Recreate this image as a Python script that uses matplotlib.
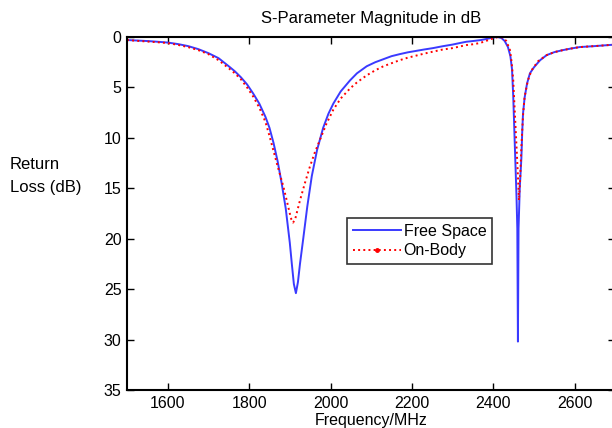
import matplotlib.pyplot as plt
from matplotlib.lines import Line2D

plt.rcParams['font.family'] = ['Liberation Sans', 'DejaVu Sans']

# frequency (MHz) and return loss (dB)
free_f = [1500, 1525, 1550, 1575, 1600, 1625, 1650, 1675, 1700, 1725, 1750,
          1765, 1780, 1795, 1810, 1825, 1840, 1850, 1860, 1870, 1880, 1890,
          1900, 1905, 1910, 1915, 1920, 1925, 1933, 1943, 1954, 1967, 1982,
          1995, 2007, 2025, 2048, 2065, 2089, 2110, 2130, 2150, 2170, 2190,
          2210, 2230, 2252, 2275, 2300, 2320, 2334, 2350, 2370, 2385, 2400,
          2410, 2420, 2428, 2436, 2442, 2446, 2449, 2453, 2457, 2459, 2460.5,
          2462, 2465, 2469, 2471, 2473, 2477, 2483, 2490, 2500, 2515, 2531,
          2550, 2571, 2590, 2612, 2650, 2700]
free_rl = [0.3, 0.35, 0.4, 0.47, 0.55, 0.7, 0.9, 1.2, 1.6, 2.1, 2.9,
           3.4, 4.0, 4.7, 5.6, 6.6, 7.9, 9.0, 10.5, 12.3, 14.5, 17.0,
           20.4, 22.5, 24.5, 25.4, 24.3, 22.5, 20.0, 16.8, 13.8, 11.2, 9.0,
           7.6, 6.6, 5.4, 4.3, 3.6, 2.9, 2.5, 2.2, 1.9, 1.7, 1.52,
           1.38, 1.24, 1.1, 0.92, 0.75, 0.58, 0.47, 0.4, 0.3, 0.18, 0.05,
           0.0, 0.1, 0.4, 1.0, 1.9, 3.2, 5.9, 10.9, 15.8, 19.0, 30.2,
           19.0, 15.0, 12.0, 9.5, 7.6, 6.0, 4.6, 3.6, 3.0, 2.3, 1.8,
           1.5, 1.3, 1.15, 1.0, 0.9, 0.75]

body_f = [1500, 1525, 1550, 1575, 1600, 1625, 1650, 1675, 1700, 1725, 1750,
          1765, 1780, 1795, 1810, 1825, 1840, 1850, 1860, 1870, 1884, 1893,
          1900, 1904, 1908, 1913, 1918, 1925, 1937, 1949, 1961, 1974, 1990,
          2007, 2025, 2048, 2065, 2089, 2110, 2130, 2150, 2170, 2190, 2210,
          2230, 2252, 2275, 2300, 2320, 2334, 2350, 2367, 2385, 2400, 2410,
          2418, 2425, 2432, 2441, 2445, 2449, 2455, 2459, 2461, 2463, 2466,
          2469, 2473, 2477, 2485, 2494, 2510, 2531, 2550, 2571, 2590, 2612,
          2650, 2700]
body_rl = [0.3, 0.38, 0.45, 0.52, 0.6, 0.78, 1.0, 1.3, 1.7, 2.3, 3.1,
           3.6, 4.2, 5.0, 5.9, 7.0, 8.4, 9.8, 11.3, 12.8, 14.8, 16.3,
           17.5, 18.1, 18.4, 18.1, 17.3, 16.2, 14.5, 12.9, 11.5, 10.2, 8.6,
           7.2, 6.1, 5.1, 4.5, 3.8, 3.3, 2.9, 2.6, 2.3, 2.05, 1.85,
           1.65, 1.45, 1.25, 1.1, 0.92, 0.8, 0.72, 0.6, 0.35, 0.13, 0.02,
           0.0, 0.1, 0.4, 1.3, 2.5, 4.3, 9.2, 12.5, 14.2, 16.2, 14.0,
           10.9, 7.8, 5.9, 4.3, 3.3, 2.4, 1.8, 1.5, 1.3, 1.15, 1.0,
           0.9, 0.75]

xticks = [1600, 1800, 2000, 2200, 2400, 2600]
yticks = [0, 5, 10, 15, 20, 25, 30, 35]

fig = plt.figure(figsize=(6.12, 4.28), dpi=100)
ax = fig.add_axes([127 / 612, 38 / 428, 488.4 / 612, 353 / 428])

ax.plot(free_f, free_rl, color='#3a3aff', lw=1.4)
ax.plot(body_f, body_rl, color='red', lw=1.4, ls=':')

ax.set_xlim(1500, 2700)
ax.set_ylim(35, 0)
ax.set_xticks(xticks)
ax.set_yticks(yticks)
ax.tick_params(direction='in', length=5, width=1, top=True, right=True,
               labelsize=11.5, pad=4)
for s in ax.spines.values():
    s.set_linewidth(1.5)

ax.set_title('S-Parameter Magnitude in dB', fontsize=12, pad=10)
ax.set_xlabel('Frequency/MHz', fontsize=11.5, labelpad=2)
fig.text(10 / 612, 1 - 176 / 428, 'Return\nLoss (dB)', fontsize=12,
         ha='left', va='center', linespacing=1.6)

handles = [Line2D([], [], color='#3a3aff', lw=1.4),
           Line2D([], [], color='red', lw=1.4, ls=':', marker='.',
                  markersize=5, markevery=[1])]
leg = ax.legend(handles, ['Free Space', 'On-Body'], loc='upper left',
                bbox_to_anchor=((347 - 127) / 488.4, 1 - (218 - 37) / 353),
                fontsize=11.5, frameon=True, fancybox=False, borderpad=0.35,
                handlelength=3.0, handletextpad=0.2, labelspacing=0.3,
                borderaxespad=0)
leg.get_frame().set_edgecolor('black')
leg.get_frame().set_linewidth(1.2)

fig.savefig('out.png', dpi=100)
